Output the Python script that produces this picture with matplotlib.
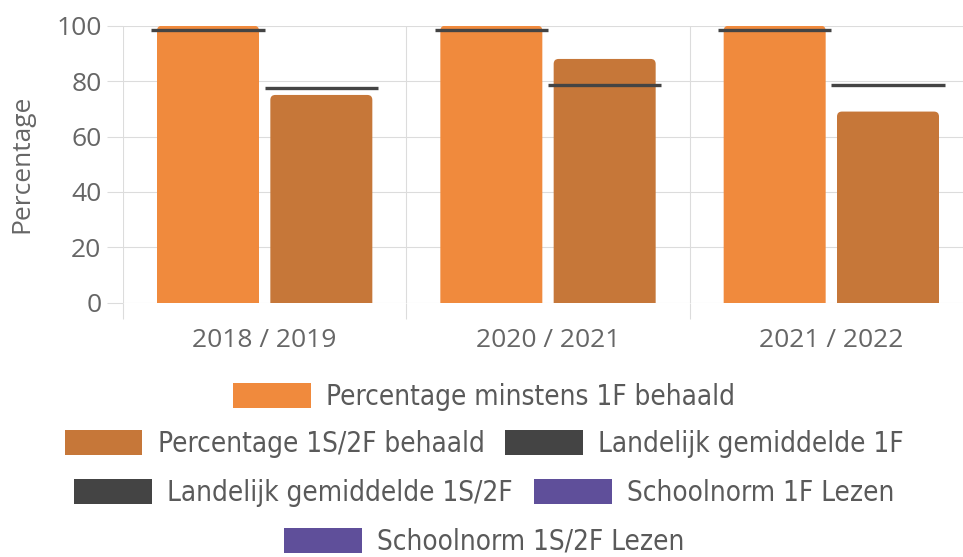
import matplotlib
matplotlib.use("Agg")
import matplotlib.pyplot as plt
from matplotlib.patches import Patch, FancyBboxPatch
import numpy as np

# ---- data ----
categories = ["2018 / 2019", "2020 / 2021", "2021 / 2022"]
pct_1f = [100, 100, 100]            # Percentage minstens 1F behaald
pct_2f = [75, 88, 69]               # Percentage 1S/2F behaald
land_1f = [98.4, 98.4, 98.4]        # Landelijk gemiddelde 1F
land_2f = [77.4, 78.6, 78.6]        # Landelijk gemiddelde 1S/2F
yticks = [0, 20, 40, 60, 80, 100]

series_names = ["Percentage minstens 1F behaald", "Percentage 1S/2F behaald",
                "Landelijk gemiddelde 1F", "Landelijk gemiddelde 1S/2F",
                "Schoolnorm 1F Lezen", "Schoolnorm 1S/2F Lezen"]

# ---- style ----
C_ORANGE = "#f08a3d"
C_BROWN = "#c67739"
C_DARK = "#444444"
C_PURPLE = "#5f4f9a"
C_GRID = "#dcdcdc"
C_TEXT = "#666666"

W, H = 963, 557
fig = plt.figure(figsize=(W / 100, H / 100), dpi=100)
ax_w_px, ax_h_px = 850, 302.7 - 25.7
ax = fig.add_axes([123 / W, 1 - 302.7 / H, ax_w_px / W, ax_h_px / H])

x = np.arange(len(categories))
bw = 0.36
off = 0.2
ax.set_xlim(-0.5, len(categories) - 0.5)
ax.set_ylim(0, 100)

bars1 = ax.bar(x - off, pct_1f, width=bw, color=C_ORANGE, zorder=2)
bars2 = ax.bar(x + off, pct_2f, width=bw, color=C_BROWN, zorder=2)

# rounded tops: replace rectangles with rounded boxes (bottom hidden below 0)
px_x = (len(categories)) / ax_w_px      # data units per pixel, x
px_y = 100 / ax_h_px                    # data units per pixel, y
rad_px = 5
for bars in (bars1, bars2):
    for rect in bars:
        rx = rect.get_x(); rw = rect.get_width(); rh = rect.get_height()
        ry = rad_px * px_y
        fb = FancyBboxPatch((rx, -ry), rw, rh + ry,
                            boxstyle=f"round,pad=0,rounding_size={rad_px * px_x}",
                            mutation_aspect=px_y / px_x,
                            facecolor=rect.get_facecolor(), edgecolor="none", zorder=2)
        ax.add_patch(fb)
        rect.set_visible(False)

ax.hlines(land_1f, x - off - 0.2, x - off + 0.2, color=C_DARK, lw=2.4, zorder=3, clip_on=False)
ax.hlines(land_2f, x + off - 0.2, x + off + 0.2, color=C_DARK, lw=2.4, zorder=3, clip_on=False)

for s in ax.spines.values():
    s.set_visible(False)

ax.set_yticks(yticks)
ax.set_yticklabels([str(v) for v in yticks])
ax.set_xticks(x)
ax.set_xticklabels(categories)
ax.set_xticks(np.arange(-0.5, len(categories), 1.0), minor=True)
ax.tick_params(axis="x", which="major", length=0, pad=18)
ax.tick_params(axis="x", which="minor", length=11.5, width=0.8, color=C_GRID)
ax.tick_params(axis="y", length=11.5, width=0.8, color=C_GRID, pad=4)
ax.grid(axis="y", which="major", color=C_GRID, lw=0.8, zorder=0)
ax.grid(axis="x", which="minor", color=C_GRID, lw=0.8, zorder=0)
ax.set_axisbelow(True)
for lab in ax.get_xticklabels() + ax.get_yticklabels():
    lab.set_fontfamily("Open Sans")
    lab.set_fontsize(19)
    lab.set_color(C_TEXT)

fig.text(22 / W, 1 - 164 / H, "Percentage", rotation=90, ha="center", va="center",
         fontfamily="Open Sans", fontsize=19, color=C_TEXT)

# ---- legend in centered rows ----
colors = [C_ORANGE, C_BROWN, C_DARK, C_DARK, C_PURPLE, C_PURPLE]
handles = [Patch(facecolor=c, edgecolor="none") for c in colors]
rows = [[0], [1, 2], [3, 4], [5]]
row_y = [397, 444, 493, 542]
legfont = {"family": "DejaVu Sans", "stretch": "condensed", "size": 20}
for r, yy in zip(rows, row_y):
    leg = fig.legend([handles[i] for i in r], [series_names[i] for i in r],
                     loc="center", bbox_to_anchor=(0.503, 1 - yy / H), ncol=len(r),
                     frameon=False, prop=legfont, handlelength=2.8, handleheight=0.97,
                     handletextpad=0.55, columnspacing=0.75, borderpad=0, borderaxespad=0)
    for t in leg.get_texts():
        t.set_color("#5a5a5a")

fig.savefig("out.png", dpi=100)
